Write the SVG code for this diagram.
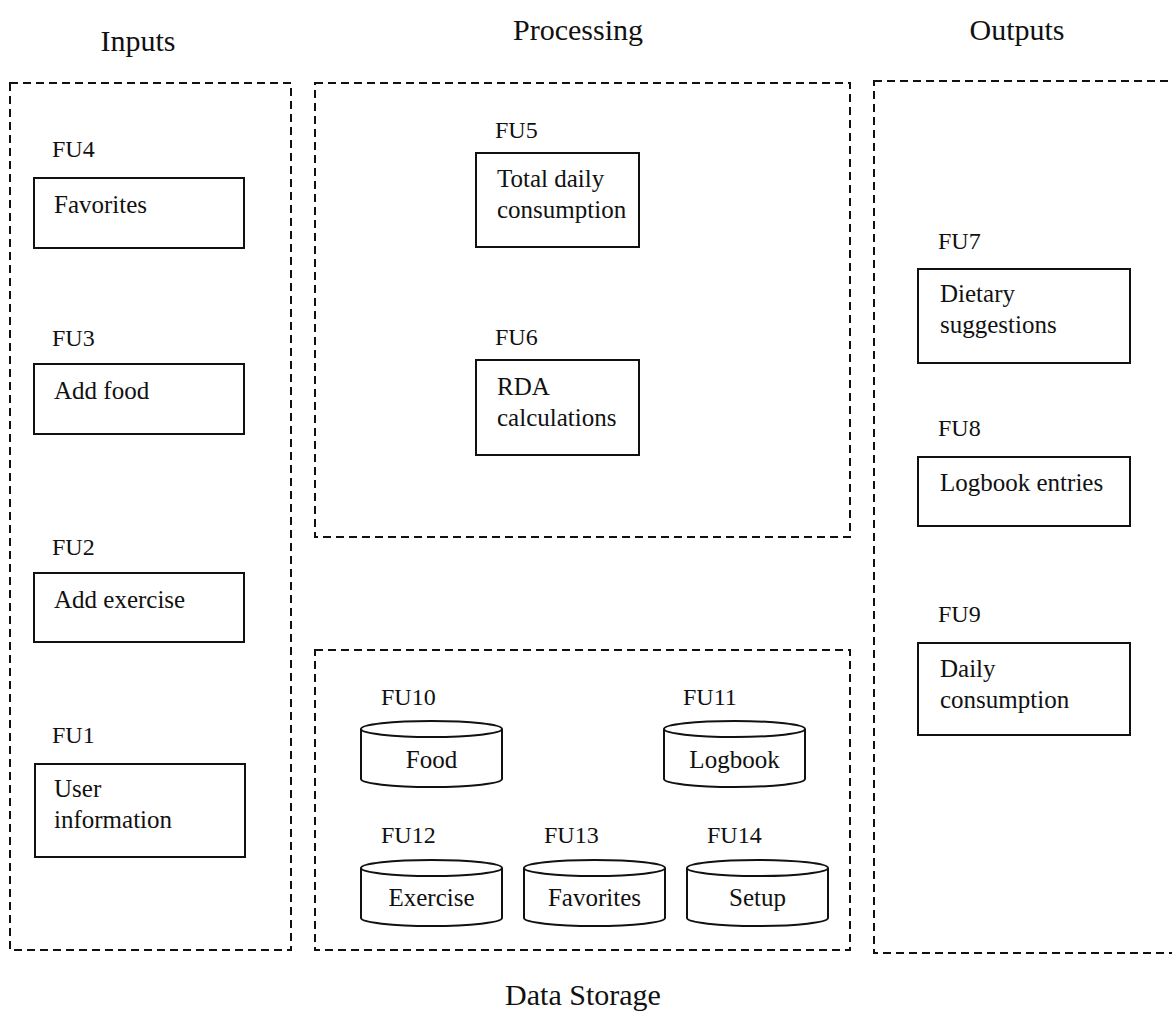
<svg xmlns="http://www.w3.org/2000/svg" width="1172" height="1019" viewBox="0 0 1172 1019">
  <style>
    text { font-family: "Liberation Serif", "Times New Roman", serif; fill: #111; }
    .title { font-size: 30px; text-anchor: middle; }
    .fu { font-size: 24px; }
    .lbl { font-size: 25px; }
    .mid { text-anchor: middle; }
    .panel { fill: none; stroke: #111; stroke-width: 2; stroke-dasharray: 8 5; }
    .box { fill: #fff; stroke: #111; stroke-width: 2; }
    .cyl { fill: #fff; stroke: #111; stroke-width: 2; }
  </style>
  <defs>
    <!-- data store cylinder, 141 wide, origin at top-left of the top ellipse -->
    <g id="store">
      <path class="cyl" d="M0,8 L0,58 A70.5,8 0 0 0 141,58 L141,8"/>
      <ellipse class="cyl" cx="70.5" cy="8" rx="70.5" ry="8"/>
    </g>
  </defs>
  <rect width="1172" height="1019" fill="#fff"/>

  <!-- column headings -->
  <text class="title" x="138" y="51">Inputs</text>
  <text class="title" x="578" y="40">Processing</text>
  <text class="title" x="1017" y="40">Outputs</text>
  <text class="title" x="583" y="1005">Data Storage</text>

  <!-- dashed group frames -->
  <g id="panels">
    <rect class="panel" x="10" y="83" width="281" height="867"/>
    <rect class="panel" x="315" y="83" width="535" height="454"/>
    <rect class="panel" x="315" y="650" width="535" height="300"/>
    <rect class="panel" x="874" y="81" width="320" height="872"/>
  </g>

  <!-- inputs -->
  <g id="fu4">
    <text class="fu" x="52" y="157">FU4</text>
    <rect class="box" x="34" y="178" width="210" height="70"/>
    <text class="lbl" x="54" y="213">Favorites</text>
  </g>
  <g id="fu3">
    <text class="fu" x="52" y="346">FU3</text>
    <rect class="box" x="34" y="364" width="210" height="70"/>
    <text class="lbl" x="54" y="399">Add food</text>
  </g>
  <g id="fu2">
    <text class="fu" x="52" y="555">FU2</text>
    <rect class="box" x="34" y="573" width="210" height="69"/>
    <text class="lbl" x="54" y="608">Add exercise</text>
  </g>
  <g id="fu1">
    <text class="fu" x="52" y="743">FU1</text>
    <rect class="box" x="35" y="764" width="210" height="93"/>
    <text class="lbl" x="54" y="797">User</text>
    <text class="lbl" x="54" y="828">information</text>
  </g>

  <!-- processing -->
  <g id="fu5">
    <text class="fu" x="495" y="138">FU5</text>
    <rect class="box" x="476" y="153" width="163" height="94"/>
    <text class="lbl" x="497" y="187">Total daily</text>
    <text class="lbl" x="497" y="218">consumption</text>
  </g>
  <g id="fu6">
    <text class="fu" x="495" y="345">FU6</text>
    <rect class="box" x="476" y="360" width="163" height="95"/>
    <text class="lbl" x="497" y="395">RDA</text>
    <text class="lbl" x="497" y="426">calculations</text>
  </g>

  <!-- outputs -->
  <g id="fu7">
    <text class="fu" x="938" y="249">FU7</text>
    <rect class="box" x="918" y="269" width="212" height="94"/>
    <text class="lbl" x="940" y="302">Dietary</text>
    <text class="lbl" x="940" y="333">suggestions</text>
  </g>
  <g id="fu8">
    <text class="fu" x="938" y="436">FU8</text>
    <rect class="box" x="918" y="457" width="212" height="69"/>
    <text class="lbl" x="940" y="491">Logbook entries</text>
  </g>
  <g id="fu9">
    <text class="fu" x="938" y="622">FU9</text>
    <rect class="box" x="918" y="643" width="212" height="92"/>
    <text class="lbl" x="940" y="677">Daily</text>
    <text class="lbl" x="940" y="708">consumption</text>
  </g>

  <!-- data storage -->
  <g id="fu10">
    <text class="fu" x="381" y="705">FU10</text>
    <use href="#store" x="361" y="721"/>
    <text class="lbl mid" x="431.5" y="768">Food</text>
  </g>
  <g id="fu11">
    <text class="fu" x="683" y="705">FU11</text>
    <use href="#store" x="664" y="721"/>
    <text class="lbl mid" x="734.5" y="768">Logbook</text>
  </g>
  <g id="fu12">
    <text class="fu" x="381" y="843">FU12</text>
    <use href="#store" x="361" y="860"/>
    <text class="lbl mid" x="431.5" y="906">Exercise</text>
  </g>
  <g id="fu13">
    <text class="fu" x="544" y="843">FU13</text>
    <use href="#store" x="524" y="860"/>
    <text class="lbl mid" x="594.5" y="906">Favorites</text>
  </g>
  <g id="fu14">
    <text class="fu" x="707" y="843">FU14</text>
    <use href="#store" x="687" y="860"/>
    <text class="lbl mid" x="757.5" y="906">Setup</text>
  </g>

  <!-- no connectors are drawn between the units -->
  <g id="connectors"/>
</svg>
